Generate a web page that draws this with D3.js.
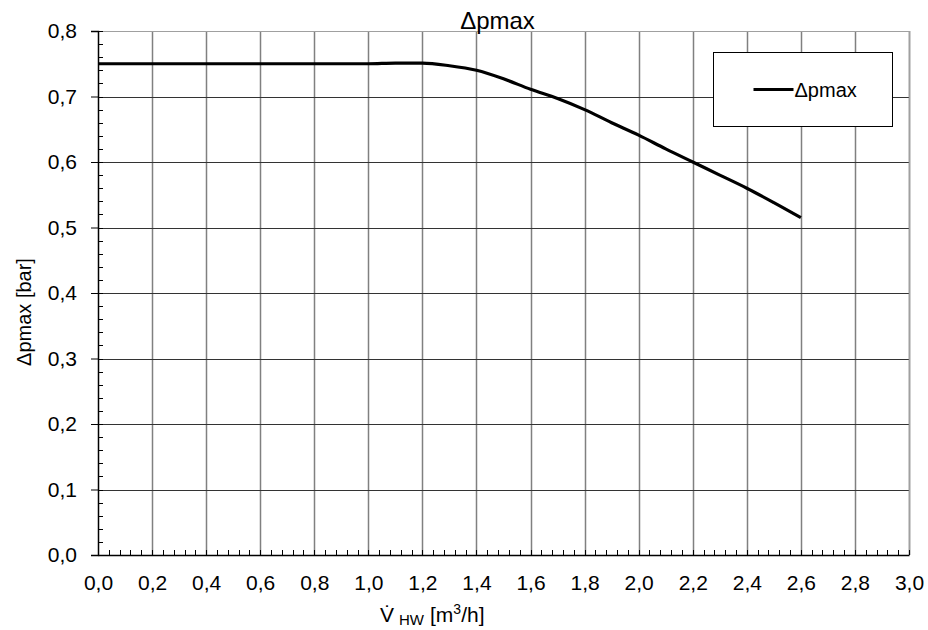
<!DOCTYPE html>
<html>
<head>
<meta charset="utf-8">
<script src="https://cdn.jsdelivr.net/npm/d3@7"></script>
<style>
  body { margin: 0; background: #fff; }
  text { font-family: "Liberation Sans", Arial, sans-serif; fill: #000; }
</style>
</head>
<body>
<div id="chart"></div>
<script>
// flow rate [m3/h] and max pressure drop [bar]
var flow = [0, 0.2, 0.4, 0.6, 0.8, 1.0, 1.1, 1.2, 1.3, 1.4, 1.5, 1.6, 1.7, 1.8, 1.9, 2.0, 2.1, 2.2, 2.3, 2.4, 2.5, 2.6]
var dpmax = [0.75, 0.75, 0.75, 0.75, 0.75, 0.75, 0.751, 0.751, 0.747, 0.74, 0.727, 0.711, 0.697, 0.68, 0.66, 0.641, 0.62, 0.60, 0.58, 0.56, 0.538, 0.515]
var xTicks = d3.range(0, 3.0001, 0.2)
var yTicks = d3.range(0, 0.8001, 0.1)
var seriesName = 'Δpmax'

var width = 928, height = 630
var margin = {top: 31, right: 19, bottom: 75, left: 98}
var w = width - margin.left - margin.right
var h = height - margin.top - margin.bottom

var fmt = d3.formatLocale({decimal: ',', thousands: '.', grouping: [3], currency: ['', '€']}).format('.1f')

var svg = d3.select('#chart').append('svg')
  .attr('width', width).attr('height', height)

var g = svg.append('g').attr('transform', 'translate(' + margin.left + ',' + margin.top + ')')

var x = d3.scaleLinear().domain([0, 3]).range([0, w])
var y = d3.scaleLinear().domain([0, 0.8]).range([h, 0])

// grid
g.selectAll('.vgrid').data(xTicks.slice(1)).enter().append('line')
  .attr('x1', d => Math.round(x(d)) + 0.5).attr('x2', d => Math.round(x(d)) + 0.5)
  .attr('y1', 0).attr('y2', h)
  .attr('stroke', '#808080').attr('stroke-width', 1.5)
g.selectAll('.hgrid').data(yTicks.slice(1)).enter().append('line')
  .attr('x1', 0).attr('x2', w)
  .attr('y1', d => Math.round(y(d)) + 0.5).attr('y2', d => Math.round(y(d)) + 0.5)
  .attr('stroke', d => Math.abs(d - 0.8) < 1e-6 ? '#a0a0a0' : '#333').attr('stroke-width', 1)
g.append('line').attr('x1', w + 0.5).attr('x2', w + 0.5).attr('y1', 0).attr('y2', h)
  .attr('stroke', '#a0a0a0').attr('stroke-width', 1.5)

// minor ticks
g.selectAll('.ymin').data(d3.range(0, 0.8001, 0.02)).enter().append('line')
  .attr('x1', 0).attr('x2', 5)
  .attr('y1', d => Math.round(y(d)) + 0.5).attr('y2', d => Math.round(y(d)) + 0.5)
  .attr('stroke', '#000').attr('stroke-width', 1)
g.selectAll('.xmin').data(d3.range(0, 3.0001, 0.04)).enter().append('line')
  .attr('x1', d => Math.round(x(d)) + 0.5).attr('x2', d => Math.round(x(d)) + 0.5)
  .attr('y1', h).attr('y2', h - 5)
  .attr('stroke', '#000').attr('stroke-width', 1)

// axes
var yAxis = d3.axisLeft(y).tickValues(yTicks).tickFormat(fmt).tickSize(7).tickPadding(14)
var yg = g.append('g').call(yAxis)
yg.select('.domain').attr('stroke-width', 1.5)
yg.selectAll('text').style('font-size', '21px')

var xAxis = d3.axisBottom(x).tickValues(xTicks).tickFormat(fmt).tickSize(0).tickPadding(20)
var xg = g.append('g').attr('transform', 'translate(0,' + h + ')').call(xAxis)
xg.select('.domain').attr('stroke-width', 1.5)
xg.selectAll('text').style('font-size', '21px')

// curve
var line = d3.line()
  .x((d, i) => x(flow[i]))
  .y(d => y(d))
  .curve(d3.curveMonotoneX)
g.append('path').datum(dpmax)
  .attr('d', line)
  .attr('fill', 'none').attr('stroke', '#000').attr('stroke-width', 3.2)

// title
svg.append('text').attr('x', 497.5).attr('y', 29)
  .attr('text-anchor', 'middle').style('font-size', '24px').text(seriesName)

// legend
var lg = svg.append('g').attr('transform', 'translate(713.5,52.5)')
lg.append('rect').attr('width', 179).attr('height', 74)
  .attr('fill', '#fff').attr('stroke', '#000').attr('stroke-width', 1)
lg.append('line').attr('x1', 40).attr('x2', 80).attr('y1', 37).attr('y2', 37)
  .attr('stroke', '#000').attr('stroke-width', 3.2)
lg.append('text').attr('x', 81).attr('y', 44).style('font-size', '20px').text(seriesName)

// y axis title
svg.append('text')
  .attr('transform', 'translate(31,312) rotate(-90)')
  .attr('text-anchor', 'middle').style('font-size', '20px').text('Δpmax [bar]')

// x axis title
var xt = svg.append('text').attr('x', 380).attr('y', 622).style('font-size', '21px')
xt.append('tspan').text('V̇')
xt.append('tspan').attr('dx', 5).attr('dy', 3).style('font-size', '15px').text('HW')
xt.append('tspan').attr('dx', 6).attr('dy', -3).text('[m')
xt.append('tspan').attr('dy', -8).style('font-size', '14px').text('3')
xt.append('tspan').attr('dy', 8).text('/h]')
</script>
</body>
</html>
